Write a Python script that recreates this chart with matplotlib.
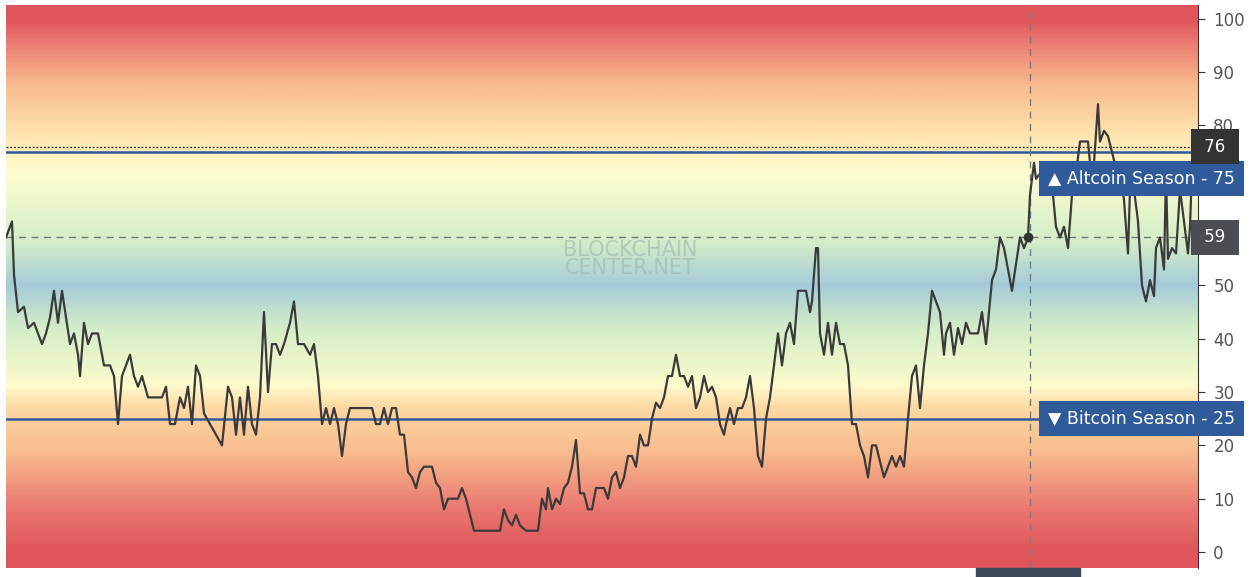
import matplotlib.pyplot as plt
import numpy as np
from matplotlib.colors import LinearSegmentedColormap

day = [6, 12, 14, 18, 24, 28, 34, 38, 42, 46, 50, 54, 58, 62, 66, 70, 74, 78, 80, 84, 88, 92, 98, 104, 110, 114, 118, 122, 126, 130,
       134, 138, 142, 148, 155, 162, 166, 170, 175, 180, 184, 188, 192, 196, 200, 204, 210, 216, 222, 228, 232, 236, 240, 244, 248, 252, 256, 260, 264, 268,
       272, 276, 280, 284, 290, 294, 298, 304, 310, 314, 318, 322, 326, 330, 334, 338, 342, 346, 350, 356, 362, 366, 372, 376, 380, 384, 388, 392, 396, 400,
       404, 408, 412, 416, 420, 424, 428, 432, 436, 440, 444, 448, 452, 458, 462, 466, 470, 474, 480, 490, 500, 504, 508, 512, 516, 520, 526, 534, 538, 542,
       546, 548, 552, 556, 560, 564, 568, 572, 576, 580, 584, 588, 592, 596, 600, 604, 608, 612, 616, 620, 624, 628, 632, 636, 640, 644, 648, 652, 656, 660,
       664, 668, 672, 676, 680, 684, 688, 692, 696, 700, 704, 708, 712, 716, 720, 724, 726, 730, 734, 738, 742, 746, 750, 754, 758, 762, 766, 770, 774, 778,
       782, 786, 790, 794, 798, 802, 806, 810, 812, 816, 818, 820, 824, 828, 832, 836, 840, 844, 848, 852, 856, 860, 864, 868, 872, 876, 880, 884, 888, 892,
       896, 900, 904, 908, 912, 916, 920, 924, 928, 932, 936, 940, 944, 946, 950, 954, 958, 962, 966, 970, 974, 978, 982, 986, 988, 992, 996, 1000, 1004, 1008,
       1012, 1016, 1020, 1024, 1028, 1030, 1034, 1036, 1040, 1044, 1048, 1052, 1056, 1060, 1064, 1068, 1072, 1076, 1080, 1084, 1088, 1090, 1094, 1098, 1100, 1104, 1108, 1112, 1116, 1120,
       1124, 1128, 1130, 1134, 1138, 1142, 1146, 1150, 1154, 1156, 1160, 1164, 1166, 1168, 1172, 1176, 1180, 1184, 1188, 1190, 1192, 1196]
index = [59, 62, 52, 45, 46, 42, 43, 41, 39, 41, 44, 49, 43, 49, 44, 39, 41, 37, 33, 43, 39, 41, 41, 35, 35, 33, 24, 33, 35, 37,
         33, 31, 33, 29, 29, 29, 31, 24, 24, 29, 27, 31, 24, 35, 33, 26, 24, 22, 20, 31, 29, 22, 29, 22, 31, 24, 22, 29, 45, 30,
         39, 39, 37, 39, 43, 47, 39, 39, 37, 39, 33, 24, 27, 24, 27, 24, 18, 24, 27, 27, 27, 27, 27, 24, 24, 27, 24, 27, 27, 22,
         22, 15, 14, 12, 15, 16, 16, 16, 13, 12, 8, 10, 10, 10, 12, 10, 7, 4, 4, 4, 4, 8, 6, 5, 7, 5, 4, 4, 4, 10,
         8, 12, 8, 10, 9, 12, 13, 16, 21, 11, 11, 8, 8, 12, 12, 12, 10, 14, 15, 12, 14, 18, 18, 16, 22, 20, 20, 25, 28, 27,
         29, 33, 33, 37, 33, 33, 31, 33, 27, 29, 33, 30, 31, 29, 24, 22, 24, 27, 24, 27, 27, 29, 33, 27, 18, 16, 25, 29, 35, 41,
         35, 41, 43, 39, 49, 49, 49, 45, 47, 57, 57, 41, 37, 43, 37, 43, 39, 39, 35, 24, 24, 20, 18, 14, 20, 20, 17, 14, 16, 18,
         16, 18, 16, 25, 33, 35, 27, 35, 41, 49, 47, 45, 37, 41, 43, 37, 42, 39, 43, 41, 41, 41, 45, 39, 43, 51, 53, 59, 57, 53,
         49, 54, 59, 57, 59, 67, 73, 70, 71, 69, 71, 69, 61, 59, 61, 57, 67, 71, 77, 77, 77, 73, 73, 84, 77, 79, 78, 75, 72, 72,
         66, 56, 68, 68, 62, 50, 47, 51, 48, 57, 59, 53, 71, 55, 57, 56, 68, 62, 56, 61, 72, 76]
yticks = [0, 10, 20, 30, 40, 50, 60, 70, 80, 90, 100]
ytick_labels = ["0", "10", "20", "30", "40", "50", "", "", "80", "90", "100"]
stops = [0, 8, 18, 27, 31, 42, 50, 58, 71, 80, 88, 96, 100]
stop_colors = ["#e0555c", "#ea7870", "#f8b98c", "#fdd9a4", "#fdfbcc", "#d3edc8", "#a5cbd9",
               "#d3edc8", "#fdfdcf", "#fddda8", "#f8b98c", "#ea7870", "#e0555c"]

cmap = LinearSegmentedColormap.from_list("bg", list(zip(np.array(stops) / 100, stop_colors)))

fig = plt.figure(figsize=(12.58, 5.77), dpi=100)
ax = fig.add_axes([6 / 1258, 9 / 577, 1192 / 1258, 563 / 577])
x0, x1 = 6, 1198
ymin, ymax = -3, 102.6
grad = np.linspace(0, 100, 400).reshape(-1, 1)
ax.imshow(grad, cmap=cmap, aspect="auto", origin="lower", extent=[x0, x1, 0, 100], zorder=0)
ax.axhspan(ymin, 0, color=stop_colors[0], zorder=0, lw=0)
ax.axhspan(100, ymax, color=stop_colors[-1], zorder=0, lw=0)

ax.axhline(75, color="#2f5b9b", lw=1.8, zorder=2)
ax.axhline(25, color="#2f5b9b", lw=1.8, zorder=2)
ax.axhline(76, color="#222222", lw=0.9, ls=(0, (1.5, 1.5)), zorder=2)
ax.axhline(59, color="#777777", lw=1, ls=(0, (5, 4)), zorder=2)
ax.axvline(1030, color="#6a7f99", lw=1, ls=(0, (5, 4)), zorder=2)

ax.text(630, 55, "BLOCKCHAIN\nCENTER.NET", color="#9fb5b3", alpha=0.6, fontsize=15,
        ha="center", va="center", linespacing=0.9, zorder=1)

ax.plot(day, index, color="#3a3a3a", lw=1.6, zorder=3)
ax.plot([1028], [59], "o", color="#333333", ms=6, zorder=4)

ax.set_xlim(x0, x1)
ax.set_ylim(ymin, ymax)
ax.set_xticks([])
ax.yaxis.tick_right()
ax.set_yticks(yticks)
ax.set_yticklabels(ytick_labels)
ax.tick_params(axis="y", length=5, color="#333333", labelcolor="#555555", labelsize=12, pad=6)
for s in ["top", "left", "bottom"]:
    ax.spines[s].set_visible(False)
ax.spines["right"].set_color("#333333")

def box(y, text, color, x_left, size=12.5):
    ax.annotate(text, xy=(1, y), xycoords=("axes fraction", "data"),
                xytext=(x_left, 0), textcoords="offset pixels", ha="left", va="center",
                color="white", fontsize=size, annotation_clip=False,
                bbox=dict(boxstyle="square,pad=0.5", fc=color, ec="none"), zorder=6)

box(70, "▲ Altcoin Season - 75", "#2f5b9b", -150)
box(25, "▼ Bitcoin Season - 25", "#2f5b9b", -150)
box(76, " 76 ", "#333333", 1, 12)
box(59, " 59 ", "#4a4d52", 1, 12)

fig.patches.append(plt.Rectangle((976 / 1258, 0), 104 / 1258, 9 / 577, transform=fig.transFigure,
                                 color="#3d4a5c"))
fig.savefig("out.png", dpi=100)
